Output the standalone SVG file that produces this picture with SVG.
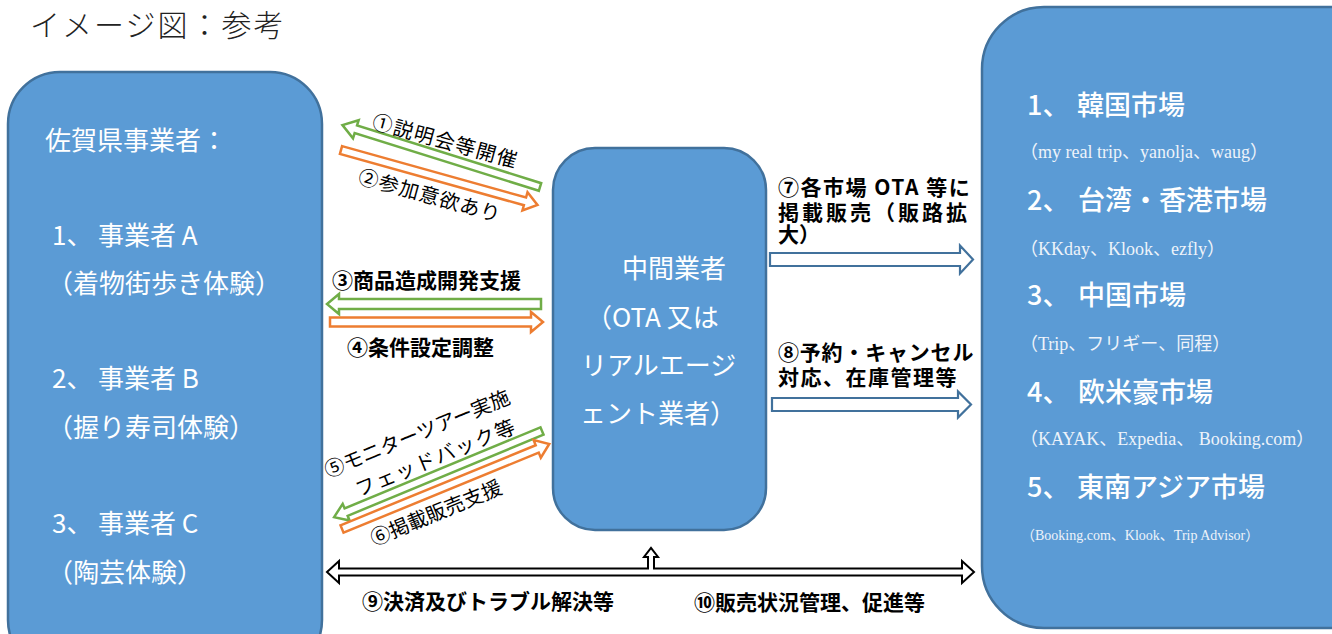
<svg xmlns="http://www.w3.org/2000/svg" width="1332" height="634" viewBox="0 0 1332 634">
<defs>
<style>
.box{fill:#5B9BD5;stroke:#41719C;stroke-width:2.5}
.wt{fill:#ffffff;font-family:"Noto Sans CJK JP","Noto Sans",sans-serif}
.sub{fill:#eef3fa;font-family:"Liberation Serif","Noto Sans CJK JP",serif}
.green{fill:#ffffff;stroke:#70AD47;stroke-width:2.5;stroke-linejoin:miter}
.orange{fill:#ffffff;stroke:#ED7D31;stroke-width:2.5;stroke-linejoin:miter}
.blue{fill:#ffffff;stroke:#41719C;stroke-width:2.2;stroke-linejoin:miter}
.black{fill:#ffffff;stroke:#000000;stroke-width:2;stroke-linejoin:miter}
.lbl{fill:#000000;font-family:"Noto Sans CJK JP","Noto Sans",sans-serif;font-size:20px}
.blbl{fill:#000000;font-family:"Noto Sans CJK JP","Noto Sans",sans-serif;font-size:21px;font-weight:bold}
</style>
</defs>
<rect width="1332" height="634" fill="#ffffff"/>

<g id="title">
<text x="30" y="36" font-family="'Noto Sans CJK JP',sans-serif" font-size="30" font-weight="300" letter-spacing="2" fill="#222222">イメージ図：参考</text>
</g>

<g id="node-saga">
<rect class="box" x="8" y="72" width="314" height="600" rx="52" ry="52"/>
<text class="wt" x="45" y="150" font-size="26">佐賀県事業者：</text>
<text class="wt" x="52" y="245" font-size="26">1、<tspan x="98">事業者 A</tspan></text>
<text class="wt" x="47" y="293" font-size="26">（着物街歩き体験）</text>
<text class="wt" x="52" y="388" font-size="26">2、<tspan x="98">事業者 B</tspan></text>
<text class="wt" x="47" y="437" font-size="26">（握り寿司体験）</text>
<text class="wt" x="52" y="533" font-size="26">3、<tspan x="98">事業者 C</tspan></text>
<text class="wt" x="47" y="582" font-size="26">（陶芸体験）</text>
</g>

<g id="node-middle">
<rect class="box" x="553" y="148" width="213" height="382" rx="42" ry="42"/>
<text class="wt" x="622" y="278" font-size="26">中間業者</text>
<text class="wt" x="586" y="327" font-size="26">（OTA 又は</text>
<text class="wt" x="581" y="375" font-size="26">リアルエージ</text>
<text class="wt" x="580" y="423" font-size="26">ェント業者）</text>
</g>

<g id="node-markets">
<rect class="box" x="982" y="7" width="420" height="621" rx="62" ry="62"/>
<text class="wt" x="1027" y="115" font-size="27" font-weight="500">1、<tspan x="1077">韓国市場</tspan></text>
<text class="sub" x="1020" y="158" font-size="18">（my real trip、yanolja、waug）</text>
<text class="wt" x="1027" y="210" font-size="27" font-weight="500">2、<tspan x="1078">台湾・香港市場</tspan></text>
<text class="sub" x="1020" y="255" font-size="18">（KKday、Klook、ezfly）</text>
<text class="wt" x="1027" y="305" font-size="27" font-weight="500">3、<tspan x="1078">中国市場</tspan></text>
<text class="sub" x="1020" y="350" font-size="18">（Trip、フリギー、同程）</text>
<text class="wt" x="1027" y="402" font-size="27" font-weight="500">4、<tspan x="1078">欧米豪市場</tspan></text>
<text class="sub" x="1020" y="445" font-size="18">（KAYAK、Expedia、 Booking.com）</text>
<text class="wt" x="1027" y="497" font-size="27" font-weight="500">5、<tspan x="1077">東南アジア市場</tspan></text>
<text class="sub" x="1021" y="540" font-size="14">（Booking.com、Klook、Trip Advisor）</text>
</g>

<g id="connectors">
<g id="c1">
<polygon class="green" transform="translate(540,187) rotate(197.4)" points="0,-4 193,-4 193,-9.5 207,0 193,9.5 193,4 0,4"/>
<text class="lbl" transform="translate(371,128) rotate(15.5)" font-size="21" letter-spacing="1.5">①説明会等開催</text>
</g>
<g id="c2">
<polygon class="orange" transform="translate(341,150) rotate(15.6)" points="0,-4 191,-4 191,-9.5 204,0 191,9.5 191,4 0,4"/>
<text class="lbl" transform="translate(357,183) rotate(15.5)" letter-spacing="1">②参加意欲あり</text>
</g>
<g id="c3">
<polygon class="green" transform="translate(541,304) rotate(180)" points="0,-5 202,-5 202,-10 214,0 202,10 202,5 0,5"/>
<text class="blbl" x="332" y="288" font-size="22">③商品造成開発支援</text>
</g>
<g id="c4">
<polygon class="orange" transform="translate(330,322)" points="0,-4.5 201,-4.5 201,-10 213,0 201,10 201,4.5 0,4.5"/>
<text class="blbl" x="347" y="355">④条件設定調整</text>
</g>
<g id="c5">
<polygon class="green" transform="translate(542,431) rotate(157.5)" points="0,-4 212,-4 212,-9 225,0 212,9 212,4 0,4"/>
<text class="lbl" transform="translate(328,478) rotate(-22.3)">⑤モニターツアー実施</text>
<text class="lbl" transform="translate(359,497) rotate(-22.3)" letter-spacing="1.5">フェッドバック等</text>
</g>
<g id="c6">
<polygon class="orange" transform="translate(342,529) rotate(-22.3)" points="0,-4 211,-4 211,-9.5 224,0 211,9.5 211,4 0,4"/>
<text class="lbl" transform="translate(374,546) rotate(-22.3)" font-size="21">⑥掲載販売支援</text>
</g>
<g id="c7">
<polygon class="blue" transform="translate(770,259.5)" points="0,-6.5 190,-6.5 190,-14 203,0 190,14 190,6.5 0,6.5"/>
<text class="blbl" x="778" y="195" font-size="20" letter-spacing="1.5">⑦各市場 OTA 等に</text>
<text class="blbl" x="778" y="220" font-size="20" letter-spacing="3">掲載販売（販路拡</text>
<text class="blbl" x="778" y="242" font-size="20">大）</text>
</g>
<g id="c8">
<polygon class="blue" transform="translate(772,404.5)" points="0,-6.5 186,-6.5 186,-13 199,0 186,13 186,6.5 0,6.5"/>
<text class="blbl" x="778" y="360" font-size="20" letter-spacing="0.8">⑧予約・キャンセル</text>
<text class="blbl" x="778" y="385" font-size="20" letter-spacing="1.5">対応、在庫管理等</text>
</g>
<g id="c9-10">
<polygon class="black" points="327,572 339,561 339,568.5 648,568.5 648,557 644,557 651,548 658,557 654,557 654,568.5 962,568.5 962,561 974,572 962,583 962,575.5 339,575.5 339,583"/>
<text class="blbl" x="362" y="609">⑨決済及びトラブル解決等</text>
<text class="blbl" x="694" y="610">⑩販売状況管理、促進等</text>
</g>
</g>
</svg>
